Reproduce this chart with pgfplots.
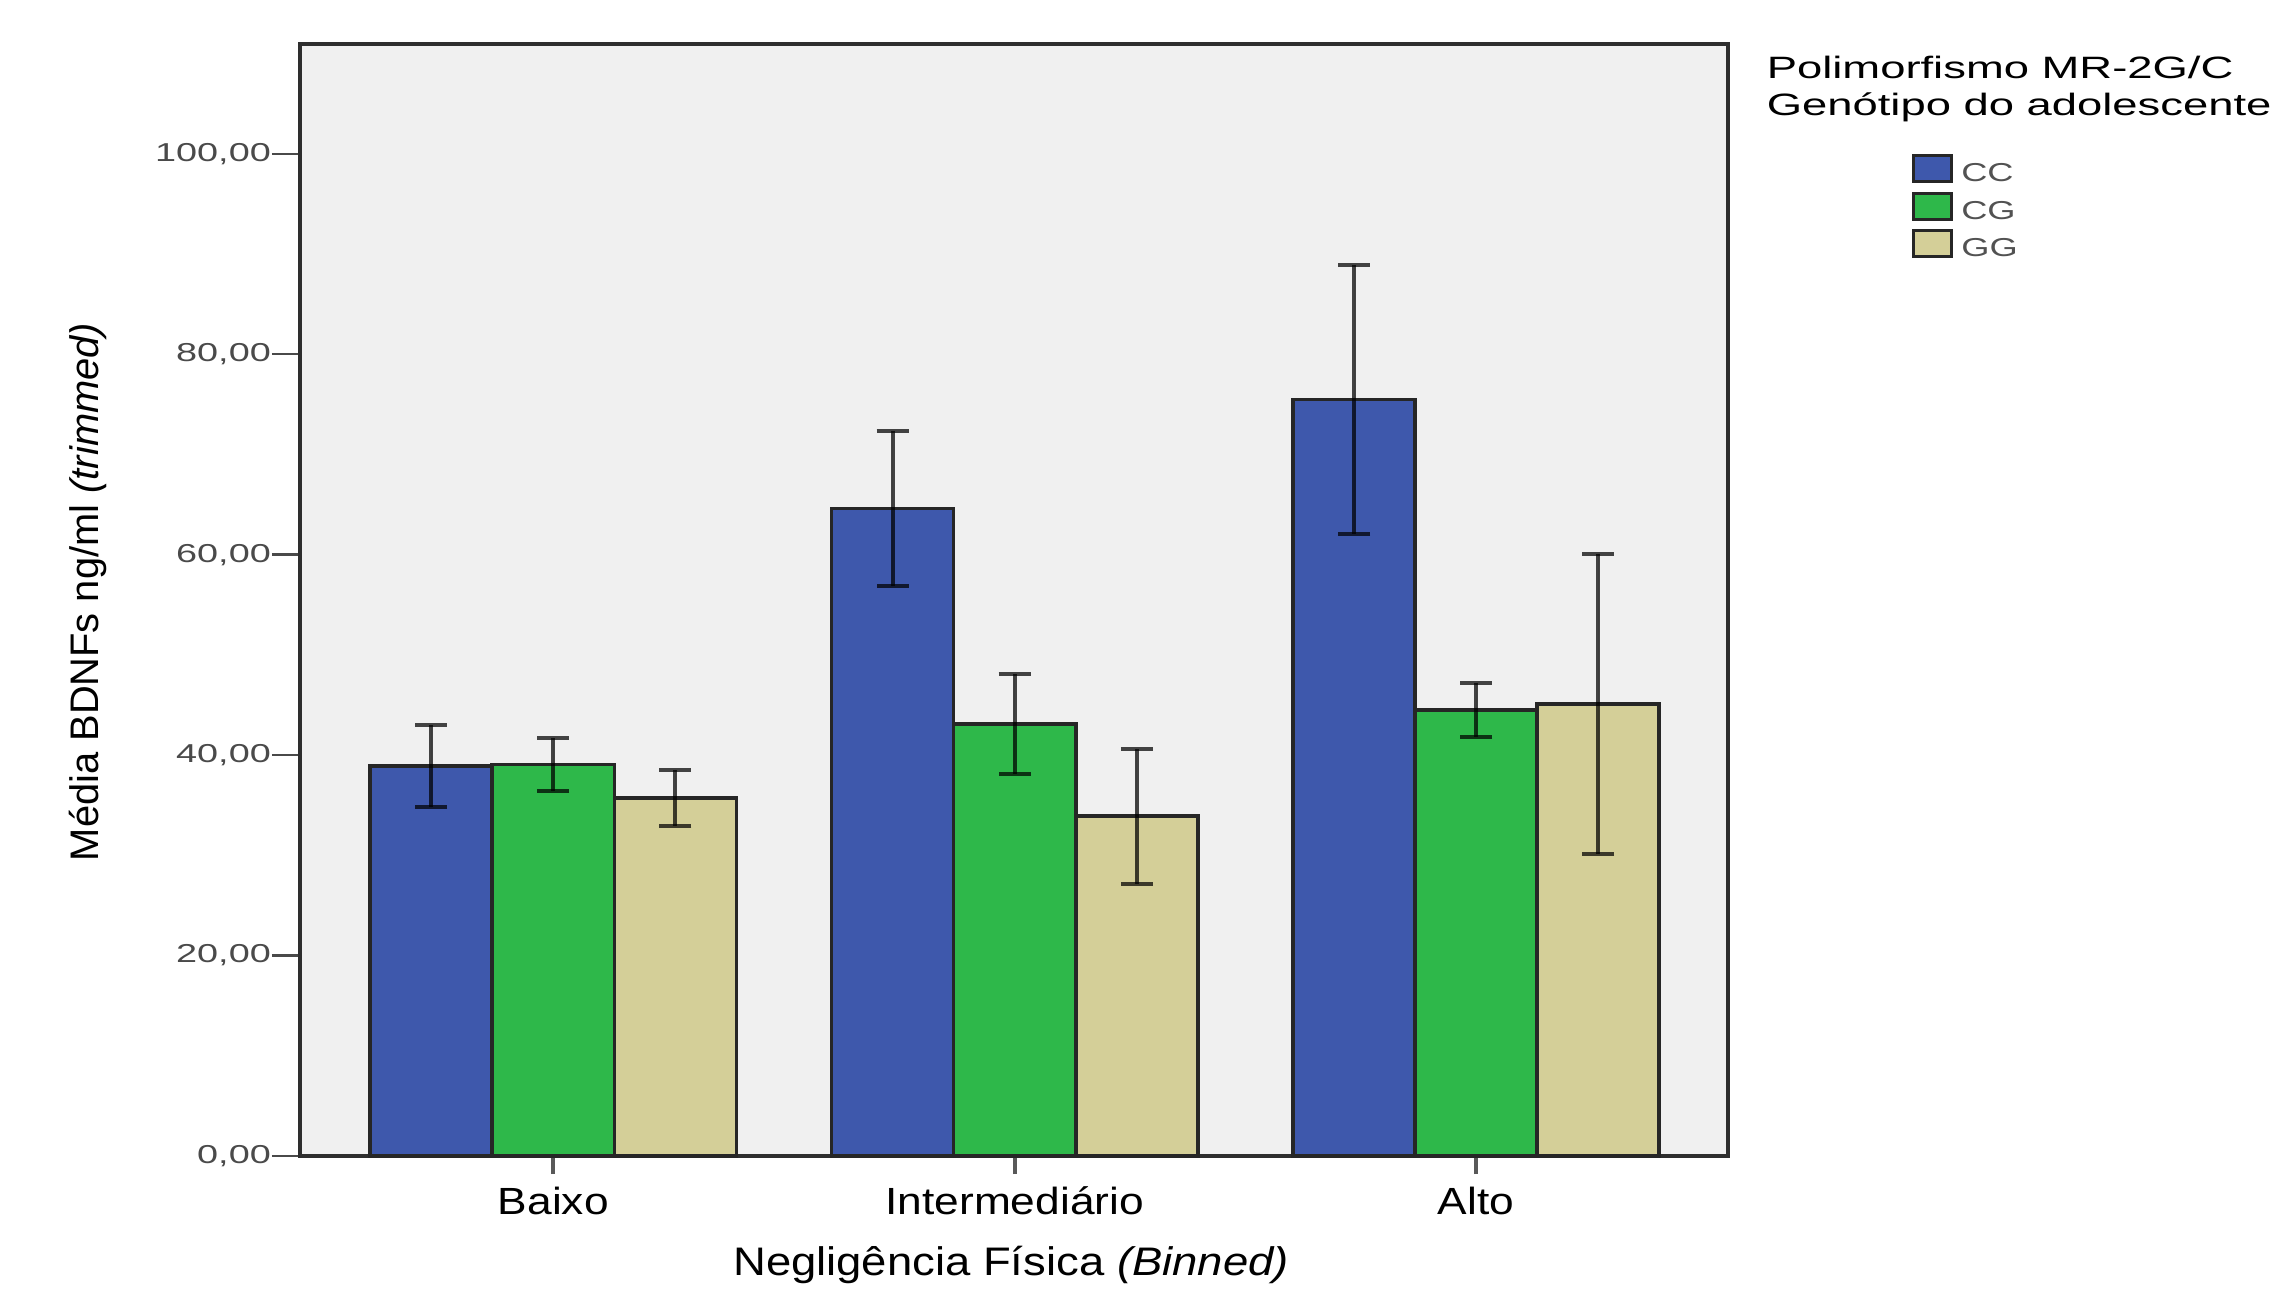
\documentclass[border=0pt]{standalone}
\usepackage{graphicx}
\usepackage{pgfplots}
\pgfplotsset{compat=1.18}
\usepackage{fontspec}
\setmainfont{Liberation Sans}
\definecolor{ccblue}{HTML}{3E58AC}
\definecolor{cggreen}{HTML}{2EB84A}
\definecolor{ggtan}{HTML}{D4CF98}
\definecolor{plotbg}{HTML}{F0F0F0}
\definecolor{framecol}{HTML}{2E2E2E}
\definecolor{ticktext}{HTML}{4A4A4A}
\pgfplotsset{legbox/.style={legend image code/.code={\draw[##1,line width=0.8bp] (0bp,-2.4bp) rectangle (9.5bp,4.1bp);}}}
\pgfplotsset{errsty/.style={error bars/.cd, y dir=both, y explicit,
  error bar style={line width=1bp, black, opacity=0.72},
  error mark options={rotate=90, mark size=4bp, line width=1bp, black, opacity=0.72}}}

\begin{document}
\begin{tikzpicture}
\useasboundingbox (0,0) rectangle (568.5bp,325bp);
\begin{axis}[
  at={(75bp,36bp)}, anchor=south west,
  width=357bp, height=278.1bp, scale only axis,
  clip=false,
  xmin=-0.549, xmax=2.546, ymin=0, ymax=111,
  axis background/.style={fill=plotbg},
  axis line style={draw=framecol, line width=1bp},
  tick pos=left,
  tick align=outside, major tick length=7bp,
  ytick={0,20,40,60,80,100},
  yticklabels={{0,00},{20,00},{40,00},{60,00},{80,00},{100,00}},
  yticklabel style={font=\fontsize{6.5}{7}\selectfont, text=ticktext, xscale=1.46, anchor=east, inner sep=0pt},
  ytick style={draw=ticktext, line width=0.6bp},
  xtick=\empty,
  extra x ticks={0,1,2},
  extra x tick labels={Baixo,Intermediário,Alto},
  extra x tick style={major tick length=4.5bp, tick style={draw=black!65, line width=1bp},
    xticklabel style={font=\fontsize{9.5}{11}\selectfont, xscale=1.17, anchor=base, yshift=-10bp, inner sep=0pt}},
  ylabel={Média BDNFs ng/ml \textit{(trimmed)}},
  ylabel style={at={(axis description cs:-0.1485,0.507)}, anchor=center, font=\fontsize{10}{12}\selectfont},
  xlabel={Negligência Física \textit{(Binned)}},
  xlabel style={at={(axis description cs:0.4979,-0.107)}, anchor=base, font=\fontsize{10}{12}\selectfont, xscale=1.14, inner sep=0pt},
  legend cell align=left,
  legend style={at={(axis description cs:1.1289,0.8539)}, anchor=west, draw=none, fill=none,
    inner sep=0pt, outer sep=0pt, row sep=2.05bp, column sep=2bp,
    nodes={inner sep=0pt, text height=4.8bp, text depth=0bp, font=\fontsize{6.5}{7}\selectfont, text=black!68}},
]
\addplot[ybar, bar width=0.2646, bar shift=0, fill=ccblue, draw=black!85, line width=0.9bp, legbox, errsty]
  coordinates {(-0.2646,38.9) +- (0,4.1) (0.7354,64.6) +- (0,7.75) (1.7354,75.5) +- (0,13.4)};
\addlegendentry{\scalebox{1.4}[1]{CC}}
\addplot[ybar, bar width=0.2646, bar shift=0, fill=cggreen, draw=black!85, line width=0.9bp, legbox, errsty]
  coordinates {(0,39.05) +- (0,2.65) (1,43.1) +- (0,4.95) (2,44.5) +- (0,2.65)};
\addlegendentry{\scalebox{1.4}[1]{CG}}
\addplot[ybar, bar width=0.2646, bar shift=0, fill=ggtan, draw=black!85, line width=0.9bp, legbox, errsty]
  coordinates {(0.2646,35.7) +- (0,2.8) (1.2646,33.9) +- (0,6.75) (2.2646,45.1) +- (0,14.95)};
\addlegendentry{\scalebox{1.4}[1]{GG}}
\node[anchor=base west, font=\fontsize{7.75}{9}\selectfont, xscale=1.47, inner sep=0pt] at (axis description cs:1.0263,0.969) {Polimorfismo MR-2G/C};
\node[anchor=base west, font=\fontsize{7.75}{9}\selectfont, xscale=1.47, inner sep=0pt] at (axis description cs:1.0263,0.9357) {Genótipo do adolescente};
\end{axis}
\end{tikzpicture}
\end{document}
